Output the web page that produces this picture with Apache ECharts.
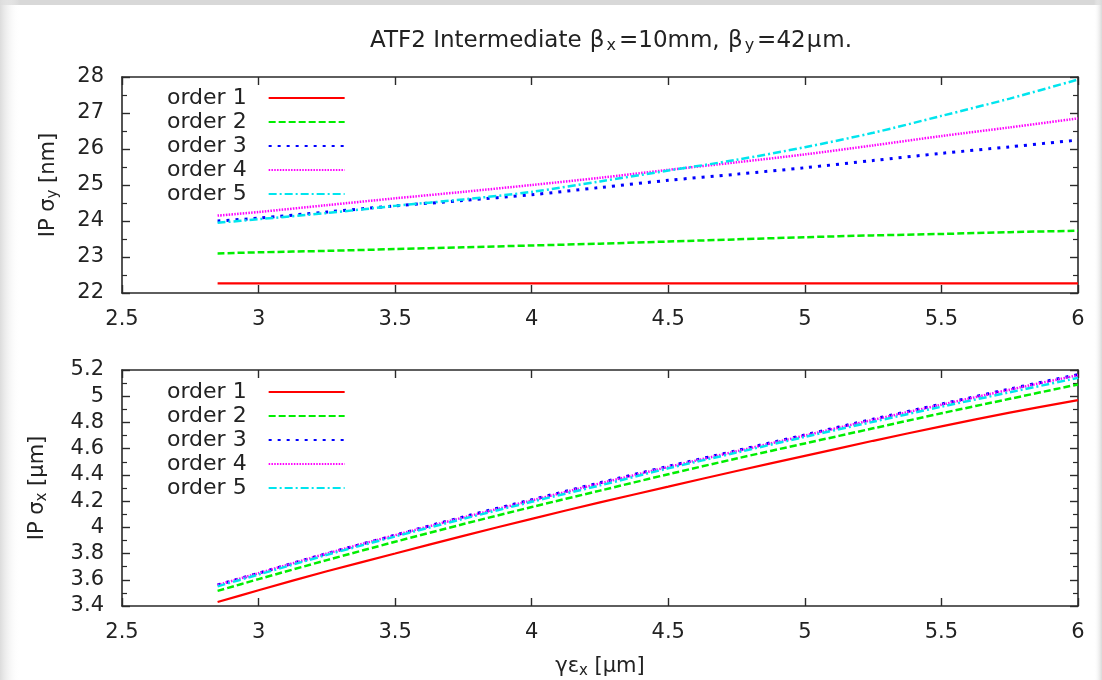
<!DOCTYPE html>
<html>
<head>
<meta charset="utf-8">
<script src="https://cdn.jsdelivr.net/npm/echarts@6/dist/echarts.min.js"></script>
<style>
html,body{margin:0;padding:0;background:#fff;}
#chart{width:1102px;height:680px;}
</style>
</head>
<body>
<div id="chart"></div>
<script>
// ---- data ----
var xValues = [2.85, 3.0, 3.25, 3.5, 3.75, 4.0, 4.25, 4.5, 4.75, 5.0, 5.25, 5.5, 5.75, 6.0];
var seriesNames = ['order 1', 'order 2', 'order 3', 'order 4', 'order 5'];

// top panel: IP sigma_y [nm]
var sigY1 = [22.27, 22.27, 22.27, 22.27, 22.27, 22.27, 22.27, 22.27, 22.27, 22.27, 22.27, 22.27, 22.27, 22.27];
var sigY2 = [23.10, 23.13, 23.17, 23.22, 23.27, 23.32, 23.37, 23.43, 23.49, 23.55, 23.60, 23.64, 23.69, 23.73];
var sigY3 = [24.00, 24.08, 24.25, 24.42, 24.57, 24.73, 24.93, 25.13, 25.30, 25.48, 25.68, 25.88, 26.06, 26.25];
var sigY4 = [24.15, 24.25, 24.44, 24.63, 24.81, 25.00, 25.20, 25.42, 25.63, 25.85, 26.10, 26.36, 26.60, 26.85];
var sigY5 = [23.95, 24.05, 24.22, 24.42, 24.60, 24.81, 25.10, 25.40, 25.70, 26.05, 26.45, 26.92, 27.40, 27.93];

// bottom panel: IP sigma_x [um]
var sigX1 = [3.430, 3.520, 3.665, 3.800, 3.935, 4.065, 4.190, 4.310, 4.430, 4.545, 4.660, 4.770, 4.875, 4.970];
var sigX2 = [3.515, 3.605, 3.750, 3.890, 4.025, 4.155, 4.280, 4.405, 4.525, 4.640, 4.755, 4.870, 4.980, 5.090];
var sigX3 = [3.560, 3.650, 3.800, 3.940, 4.080, 4.210, 4.340, 4.465, 4.585, 4.705, 4.825, 4.940, 5.055, 5.165];
var sigX4 = [3.560, 3.650, 3.800, 3.940, 4.075, 4.205, 4.335, 4.460, 4.580, 4.700, 4.820, 4.935, 5.050, 5.160];
var sigX5 = [3.550, 3.640, 3.790, 3.930, 4.065, 4.195, 4.320, 4.450, 4.570, 4.690, 4.805, 4.920, 5.030, 5.140];

var topData = [sigY1, sigY2, sigY3, sigY4, sigY5];
var botData = [sigX1, sigX2, sigX3, sigX4, sigX5];

// ---- styles ----
var FONT = 'DejaVu Sans, Verdana, sans-serif';
var TXT = '#222';
var lineStyles = [
  {color: '#ff0000', width: 2.2, type: 'solid'},
  {color: '#00ee00', width: 2.5, type: [7, 3]},
  {color: '#0000ff', width: 3, type: [3, 6]},
  {color: '#ff00ff', width: 2.5, type: [1.5, 1.3]},
  {color: '#00e5ee', width: 2.5, type: [8, 3, 2, 3]}
];

function pairs(xs, ys) {
  return xs.map(function (x, i) { return [x, ys[i]]; });
}
function fmt(v) { return String(parseFloat(v.toFixed(1))); }

var AXC = '#2a2a2a';
function xAx(grid, pos, showLabel) {
  return {
    type: 'value', gridIndex: grid, position: pos, min: 2.5, max: 6, interval: 0.5,
    axisLine: {show: true, onZero: false, lineStyle: {color: AXC, width: 1.6}},
    axisTick: {show: true, inside: true, length: 8, lineStyle: {color: AXC, width: 1.4}},
    axisLabel: {show: showLabel, formatter: fmt, color: TXT, fontSize: 21, fontFamily: FONT, margin: 16},
    splitLine: {show: false}
  };
}
function yAx(grid, pos, min, max, interval, showLabel) {
  return {
    type: 'value', gridIndex: grid, position: pos, min: min, max: max, interval: interval,
    axisLine: {show: true, onZero: false, lineStyle: {color: AXC, width: 1.6}},
    axisTick: {show: true, inside: true, length: 8, lineStyle: {color: AXC, width: 1.4}},
    minorTick: {show: true, splitNumber: 2, length: 5, lineStyle: {color: AXC, width: 1.2}},
    axisLabel: {show: showLabel, formatter: fmt, color: TXT, fontSize: 21, fontFamily: FONT, margin: 18},
    splitLine: {show: false}, minorSplitLine: {show: false}
  };
}

var nameRich = {
  n: {fontSize: 21, fontFamily: FONT, color: TXT, lineHeight: 24, fontWeight: 'normal'},
  s: {fontSize: 15, fontFamily: FONT, color: TXT, lineHeight: 15, verticalAlign: 'bottom', fontWeight: 'normal'}
};

var xAxes = [xAx(0, 'bottom', true), xAx(0, 'top', false), xAx(1, 'bottom', true), xAx(1, 'top', false)];
xAxes[2].name = '{n|γε}{s|x}{n| [μm]}';
xAxes[2].nameLocation = 'middle';
xAxes[2].nameGap = 49;
xAxes[2].nameTextStyle = {rich: nameRich};

var yAxes = [
  yAx(0, 'left', 22, 28, 1, true), yAx(0, 'right', 22, 28, 1, false),
  yAx(1, 'left', 3.4, 5.2, 0.2, true), yAx(1, 'right', 3.4, 5.2, 0.2, false)
];
yAxes[0].name = '{n|IP σ}{s|y}{n| [nm]}';
yAxes[0].nameLocation = 'middle';
yAxes[0].nameRotate = 90;
yAxes[0].nameGap = 61;
yAxes[0].nameTextStyle = {rich: nameRich};
yAxes[2].name = '{n|IP σ}{s|x}{n| [μm]}';
yAxes[2].nameLocation = 'middle';
yAxes[2].nameRotate = 90;
yAxes[2].nameGap = 72;
yAxes[2].nameTextStyle = {rich: nameRich};

var series = [];
[topData, botData].forEach(function (panel, g) {
  panel.forEach(function (ys, i) {
    series.push({
      name: seriesNames[i], type: 'line', xAxisIndex: g * 2, yAxisIndex: g * 2,
      data: pairs(xValues, ys), symbol: 'none', smooth: 0.3, animation: false,
      lineStyle: lineStyles[i], itemStyle: {color: lineStyles[i].color},
      z: 2 + i
    });
  });
});

function legendAt(top) {
  return {
    data: seriesNames, orient: 'vertical', left: 162, top: top, align: 'right',
    itemWidth: 76, itemHeight: 18, itemGap: 0, selectedMode: false,
    itemStyle: {opacity: 0},
    textStyle: {fontSize: 22, fontFamily: FONT, color: TXT, lineHeight: 24, padding: [0, 17, 0, 0]}
  };
}

var titleRich = {
  n: {fontSize: 23, fontFamily: FONT, color: TXT, lineHeight: 26, fontWeight: 'normal'},
  g: {fontSize: 23, fontFamily: FONT, color: TXT, lineHeight: 26, fontWeight: 'normal', padding: [0, 1, 0, 1]},
  s: {fontSize: 16, fontFamily: FONT, color: TXT, lineHeight: 16, verticalAlign: 'bottom', fontWeight: 'normal', padding: [0, 3, 0, 1]}
};

var option = {
  backgroundColor: '#ffffff',
  animation: false,
  title: {
    text: '{n|ATF2 Intermediate }{g|β}{s|x}{n|=10mm, }{g|β}{s|y}{n|=42}{g|μ}{n|m.}',
    left: 606, top: 23, textAlign: 'center',
    textStyle: {rich: titleRich, fontWeight: 'normal'}
  },
  legend: [legendAt(81), legendAt(375)],
  grid: [
    {left: 122, top: 77, width: 956, height: 216, containLabel: false},
    {left: 122, top: 370, width: 956, height: 236, containLabel: false}
  ],
  xAxis: xAxes,
  yAxis: yAxes,
  series: series,
  graphic: [
    {type: 'rect', left: 0, top: 0, shape: {width: 1102, height: 5}, style: {fill: '#d8d8d8'}, silent: true, z: -10},
    {type: 'rect', left: 0, top: 0, shape: {width: 20, height: 680},
      style: {fill: new echarts.graphic.LinearGradient(0, 0, 1, 0, [{offset: 0, color: '#dcdcdc'}, {offset: 1, color: 'rgba(255,255,255,0)'}])},
      silent: true, z: -10},
    {type: 'rect', right: 0, top: 0, shape: {width: 8, height: 680},
      style: {fill: new echarts.graphic.LinearGradient(0, 0, 1, 0, [{offset: 0, color: 'rgba(255,255,255,0)'}, {offset: 1, color: '#d8d8d8'}])},
      silent: true, z: -10}
  ]
};

var chart = echarts.init(document.getElementById('chart'), null, {renderer: 'canvas'});
chart.setOption(option);
</script>
</body>
</html>
